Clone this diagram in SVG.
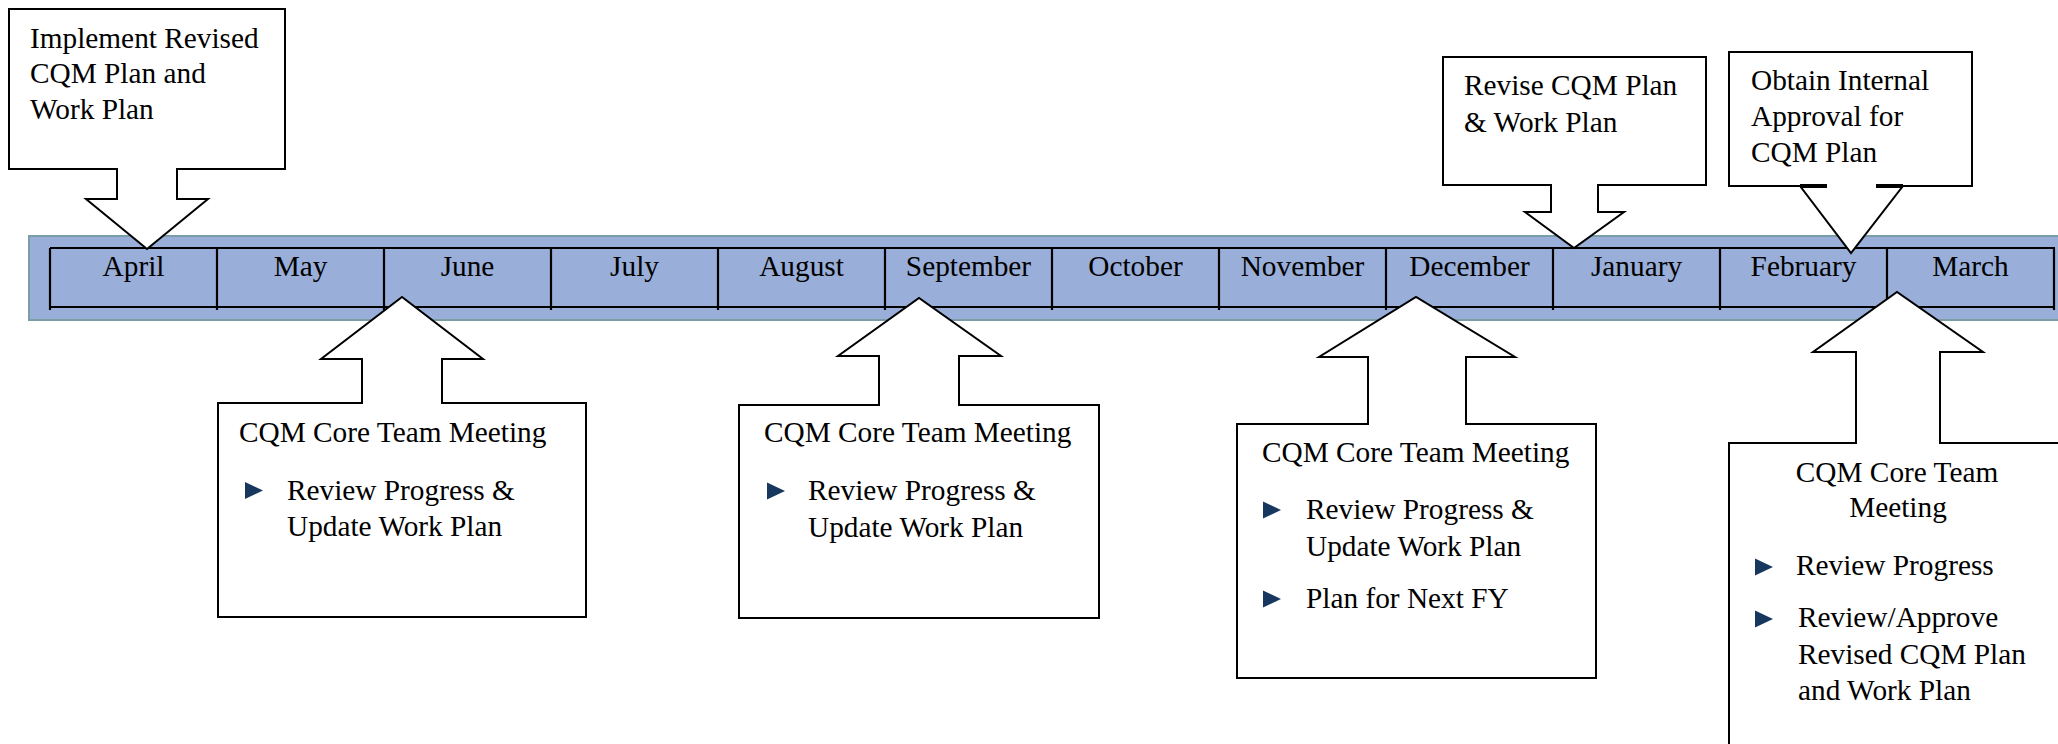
<svg xmlns="http://www.w3.org/2000/svg" width="2058" height="744" viewBox="0 0 2058 744">
<style>
text{font-family:"Liberation Serif","Times New Roman",serif;font-size:29.3px;fill:#000}
.m{text-anchor:middle}
.c{text-anchor:middle}
.co{fill:#fff;stroke:#000;stroke-width:2;stroke-linejoin:miter}
.tl{stroke:#000;stroke-width:2.2;fill:none}
.b{fill:#17375e}
</style>
<defs>
<path id="bul" d="M0,-8.5 L18,0 L0,8.5 Z"/>
</defs>
<rect x="0" y="0" width="2058" height="744" fill="#fff"/>
<g id="timeline">
<rect x="29" y="236" width="2040" height="84" fill="#99aed8" stroke="#7b9ea6" stroke-width="2"/>
<path class="tl" d="M50,248 H2055 M50,307 H2055 M50,248 V310 M217,248 V310 M384,248 V310 M551,248 V310 M718,248 V310 M885,248 V310 M1052,248 V310 M1219,248 V310 M1386,248 V310 M1553,248 V310 M1720,248 V310 M1887,248 V310 M2054,248 V310"/>
<text class="m" x="133.5" y="276">April</text>
<text class="m" x="300.5" y="276">May</text>
<text class="m" x="467.5" y="276">June</text>
<text class="m" x="634.5" y="276">July</text>
<text class="m" x="801.5" y="276">August</text>
<text class="m" x="968.5" y="276">September</text>
<text class="m" x="1135.5" y="276">October</text>
<text class="m" x="1302.5" y="276">November</text>
<text class="m" x="1469.5" y="276">December</text>
<text class="m" x="1636.5" y="276">January</text>
<text class="m" x="1803.5" y="276">February</text>
<text class="m" x="1970.5" y="276">March</text>
</g>
<g id="connectors"></g>
<g id="implement">
<path class="co" d="M9,9 H285 V169 H177 V199 H208 L147,249 L86,199 H117 V169 H9 Z"/>
<text x="30" y="48">Implement Revised</text>
<text x="30" y="83">CQM Plan and</text>
<text x="30" y="119">Work Plan</text>
</g>
<g id="revise">
<path class="co" d="M1443,57 H1706 V185 H1598 V212 H1624 L1574,248 L1525,212 H1551 V185 H1443 Z"/>
<text x="1464" y="95">Revise CQM Plan</text>
<text x="1464" y="132">&amp; Work Plan</text>
</g>
<g id="approval">
<path class="co" d="M1800,186 H1729 V52 H1972 V186 H1903 L1851,253 Z"/>
<path d="M1800,186 H1827 M1876,186 H1903" stroke="#000" stroke-width="4"/>
<text x="1751" y="90">Obtain Internal</text>
<text x="1751" y="126">Approval for</text>
<text x="1751" y="162">CQM Plan</text>
</g>
<g id="meeting-june">
<path class="co" d="M218,403 H362 V359 H321 L402,297 L483,359 H442 V403 H586 V617 H218 Z"/>
<text x="239" y="442">CQM Core Team Meeting</text>
<use href="#bul" class="b" x="245" y="490.5"/>
<text x="287" y="500">Review Progress &amp;</text>
<text x="287" y="536">Update Work Plan</text>
</g>
<g id="meeting-september">
<path class="co" d="M739,405 H879 V356 H838 L919,298 L1001,356 H959 V405 H1099 V618 H739 Z"/>
<text x="764" y="442">CQM Core Team Meeting</text>
<use href="#bul" class="b" x="767" y="491"/>
<text x="808" y="500">Review Progress &amp;</text>
<text x="808" y="537">Update Work Plan</text>
</g>
<g id="meeting-december">
<path class="co" d="M1237,424 H1368 V357 H1319 L1416,297 L1515,357 H1466 V424 H1596 V678 H1237 Z"/>
<text x="1262" y="462">CQM Core Team Meeting</text>
<use href="#bul" class="b" x="1263" y="510"/>
<text x="1306" y="519">Review Progress &amp;</text>
<text x="1306" y="556">Update Work Plan</text>
<use href="#bul" class="b" x="1263" y="599"/>
<text x="1306" y="608">Plan for Next FY</text>
</g>
<g id="meeting-march">
<path class="co" d="M1729,443 H1856 V352 H1813 L1897,292 L1983,352 H1940 V443 H2080 V760 H1729 Z"/>
<text class="c" x="1897" y="482">CQM Core Team</text>
<text class="c" x="1898" y="517">Meeting</text>
<use href="#bul" class="b" x="1755" y="567"/>
<text x="1796" y="575">Review Progress</text>
<use href="#bul" class="b" x="1755" y="619"/>
<text x="1798" y="627">Review/Approve</text>
<text x="1798" y="664">Revised CQM Plan</text>
<text x="1798" y="700">and Work Plan</text>
</g>
</svg>
